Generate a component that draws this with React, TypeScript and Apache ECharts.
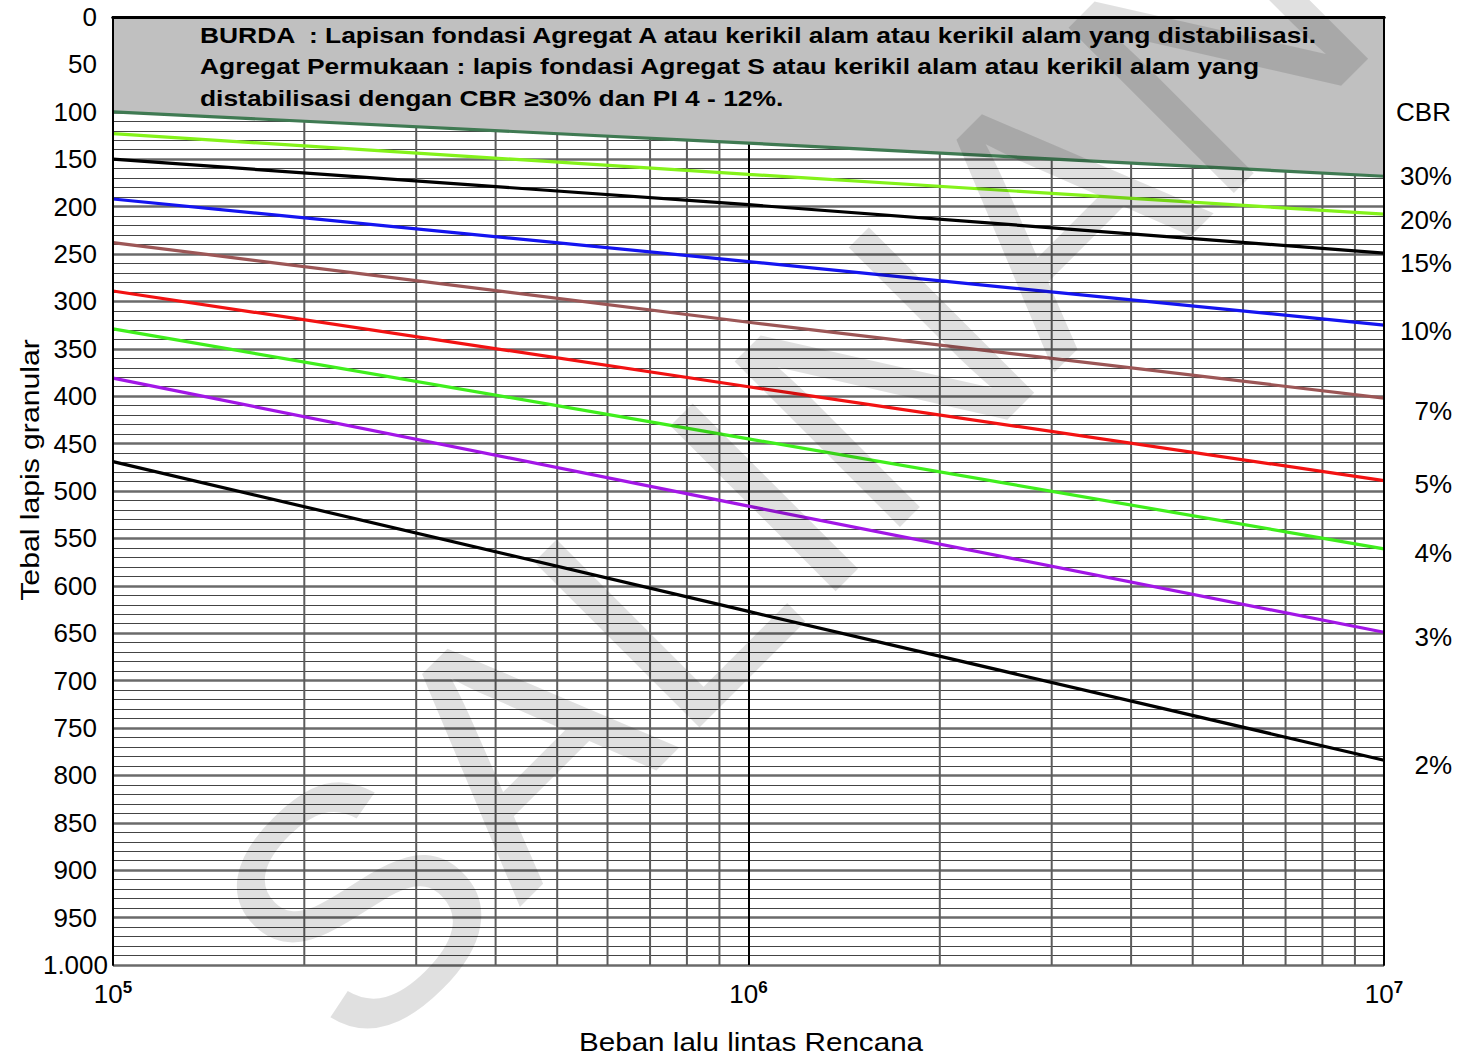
import React, { useEffect, useRef } from "react";
import * as echarts from "echarts";

// ---- data ----
const xPoints = [1e5, 1e6, 1e7];
const boundary30 = [100, 133, 168];
const cbr20 = [123, 166, 208];
const cbr15 = [150, 198, 249];
const cbr10 = [192, 258, 325];
const cbr7 = [238, 322, 402];
const cbr5 = [289, 390, 489];
const cbr4 = [329, 445, 561];
const cbr3 = [381, 516, 649];
const cbr2 = [469, 627, 784];
const minorXTicks = [2e5, 3e5, 4e5, 5e5, 6e5, 7e5, 8e5, 9e5, 2e6, 3e6, 4e6, 5e6, 6e6, 7e6, 8e6, 9e6];
const yMin = 0;
const yMax = 1000;
const noteLines = [
  "BURDA  : Lapisan fondasi Agregat A atau kerikil alam atau kerikil alam yang distabilisasi.",
  "Agregat Permukaan : lapis fondasi Agregat S atau kerikil alam atau kerikil alam yang",
  "distabilisasi dengan CBR \u226530% dan PI 4 - 12%.",
];

const FONT = "'Liberation Sans', Arial, sans-serif";

const pair = (vals: number[]) => xPoints.map((x, i) => [x, vals[i]]);

const curves = [
  { name: "30%", vals: boundary30, color: "#3f7a52", dy: 0, area: true },
  { name: "20%", vals: cbr20, color: "#84f21a", dy: 6 },
  { name: "15%", vals: cbr15, color: "#000000", dy: 10 },
  { name: "10%", vals: cbr10, color: "#1414f0", dy: 6 },
  { name: "7%", vals: cbr7, color: "#9c5656", dy: 13 },
  { name: "5%", vals: cbr5, color: "#f21212", dy: 3 },
  { name: "4%", vals: cbr4, color: "#3fee1c", dy: 4 },
  { name: "3%", vals: cbr3, color: "#a216e6", dy: 5 },
  { name: "2%", vals: cbr2, color: "#000000", dy: 5 },
];

export default function App() {
  const ref = useRef<HTMLDivElement>(null);
  useEffect(() => {
    document.body.style.margin = "0";
    const chart = echarts.init(ref.current!, null, { renderer: "svg" });

    const verticalSeries = minorXTicks.map((x) => ({
      type: "line",
      z: 1,
      silent: true,
      symbol: "none",
      xAxisIndex: 0,
      yAxisIndex: 0,
      data: [
        [x, yMin],
        [x, yMax],
      ],
      lineStyle: { color: "#5c5c5c", width: 2 },
    }));

    const curveSeries = curves.map((c) => ({
      type: "line",
      name: c.name,
      z: c.area ? 3 : 4,
      silent: true,
      symbol: "none",
      xAxisIndex: 0,
      yAxisIndex: 0,
      data: pair(c.vals),
      lineStyle: { color: c.color, width: 3.2 },
      areaStyle: c.area ? { color: "#c0c0c0", opacity: 1, origin: "start" } : undefined,
      endLabel: {
        show: true,
        formatter: c.name,
        position: "right",
        distance: 0,
        align: "right",
        verticalAlign: "middle",
        offset: [68, c.dy],
        fontSize: 26,
        fontFamily: FONT,
        color: "#000",
      },
    }));

    chart.setOption({
      animation: false,
      backgroundColor: "#fff",
      grid: { left: 113, right: 73, top: 17, bottom: 92 },
      xAxis: [
        {
          type: "log",
          logBase: 10,
          min: 1e5,
          max: 1e7,
          position: "bottom",
          z: 0,
          axisLine: { show: false },
          axisTick: { show: false },
          splitLine: { show: true, lineStyle: { color: "#000", width: 2 } },
          axisLabel: {
            margin: 14,
            color: "#000",
            fontFamily: FONT,
            fontSize: 26,
            formatter: (v: number) => "10{sup|" + Math.round(Math.log10(v)) + "}",
            rich: {
              sup: { fontSize: 17, fontWeight: "bold", fontFamily: FONT, color: "#000", verticalAlign: "top", padding: [0, 0, 12, 0] },
            },
          },
        },
        {
          type: "log",
          logBase: 10,
          min: 1e5,
          max: 1e7,
          position: "top",
          z: 10,
          axisLine: { show: true, lineStyle: { color: "#000", width: 3 } },
          axisTick: { show: false },
          axisLabel: { show: false },
          splitLine: { show: false },
        },
        {
          type: "log",
          logBase: 10,
          min: 1e5,
          max: 1e7,
          position: "bottom",
          offset: 0,
          z: 10,
          axisLine: { show: true, lineStyle: { color: "#000", width: 3 } },
          axisTick: { show: false },
          axisLabel: { show: false },
          splitLine: { show: false },
        },
      ],
      yAxis: [
        {
          type: "value",
          inverse: true,
          min: yMin,
          max: yMax,
          interval: 50,
          position: "left",
          z: 0,
          axisLine: { show: false },
          axisTick: { show: false },
          splitLine: { show: true, lineStyle: { color: "#6a6a6a", width: 2.5 } },
          minorTick: { show: false, splitNumber: 5 },
          minorSplitLine: { show: true, lineStyle: { color: "#444", width: 1 } },
          axisLabel: {
            margin: 5,
            color: "#000",
            fontFamily: FONT,
            fontSize: 26,
            formatter: (v: number) => (v === 1000 ? "{a|1.000}" : "{n|" + v + "}"),
            rich: {
              a: { fontSize: 26, fontFamily: FONT, color: "#000" },
              n: { fontSize: 26, fontFamily: FONT, color: "#000", padding: [0, 11, 0, 0] },
            },
          },
        },
        {
          type: "value",
          inverse: true,
          min: yMin,
          max: yMax,
          position: "right",
          z: 10,
          axisLine: { show: true, lineStyle: { color: "#000", width: 2 } },
          axisTick: { show: false },
          axisLabel: { show: false },
          splitLine: { show: false },
        },
        {
          type: "value",
          inverse: true,
          min: yMin,
          max: yMax,
          position: "left",
          offset: 0,
          z: 10,
          axisLine: { show: true, lineStyle: { color: "#000", width: 2 } },
          axisTick: { show: false },
          axisLabel: { show: false },
          splitLine: { show: false },
        },
      ],
      series: [...verticalSeries, ...curveSeries],
      graphic: [
        ...noteLines.map((t, i) => ({
          type: "text",
          x: 200,
          y: 35 + i * 31.5,
          scaleX: 1.2,
          z: 20,
          silent: true,
          style: {
            text: t,
            fontSize: 22,
            fontWeight: "bold",
            fontFamily: FONT,
            fill: "#000",
            textAlign: "left",
            textVerticalAlign: "middle",
          },
        })),
        {
          type: "text",
          x: 1451,
          y: 112,
          z: 20,
          silent: true,
          style: { text: "CBR", fontSize: 26, fontFamily: FONT, fill: "#000", textAlign: "right", textVerticalAlign: "middle" },
        },
        {
          type: "text",
          x: 30,
          y: 470,
          rotation: Math.PI / 2,
          scaleX: 1.16,
          z: 20,
          silent: true,
          style: {
            text: "Tebal lapis granular",
            fontSize: 26,
            fontFamily: FONT,
            fill: "#000",
            textAlign: "center",
            textVerticalAlign: "middle",
          },
        },
        {
          type: "text",
          x: 751,
          y: 1042,
          scaleX: 1.14,
          z: 20,
          silent: true,
          style: {
            text: "Beban lalu lintas Rencana",
            fontSize: 26,
            fontFamily: FONT,
            fill: "#000",
            textAlign: "center",
            textVerticalAlign: "middle",
          },
        },
        {
          type: "text",
          x: 790,
          y: 470,
          rotation: Math.PI / 4,
          z: 100,
          silent: true,
          style: {
            text: "SALINAN",
            fontSize: 340,
            fontFamily: FONT,
            fill: "rgba(0,0,0,0.12)",
            textAlign: "center",
            textVerticalAlign: "middle",
          },
        },
      ],
    });
    return () => chart.dispose();
  }, []);
  return <div ref={ref} style={{ width: 1457, height: 1057 }} />;
}
